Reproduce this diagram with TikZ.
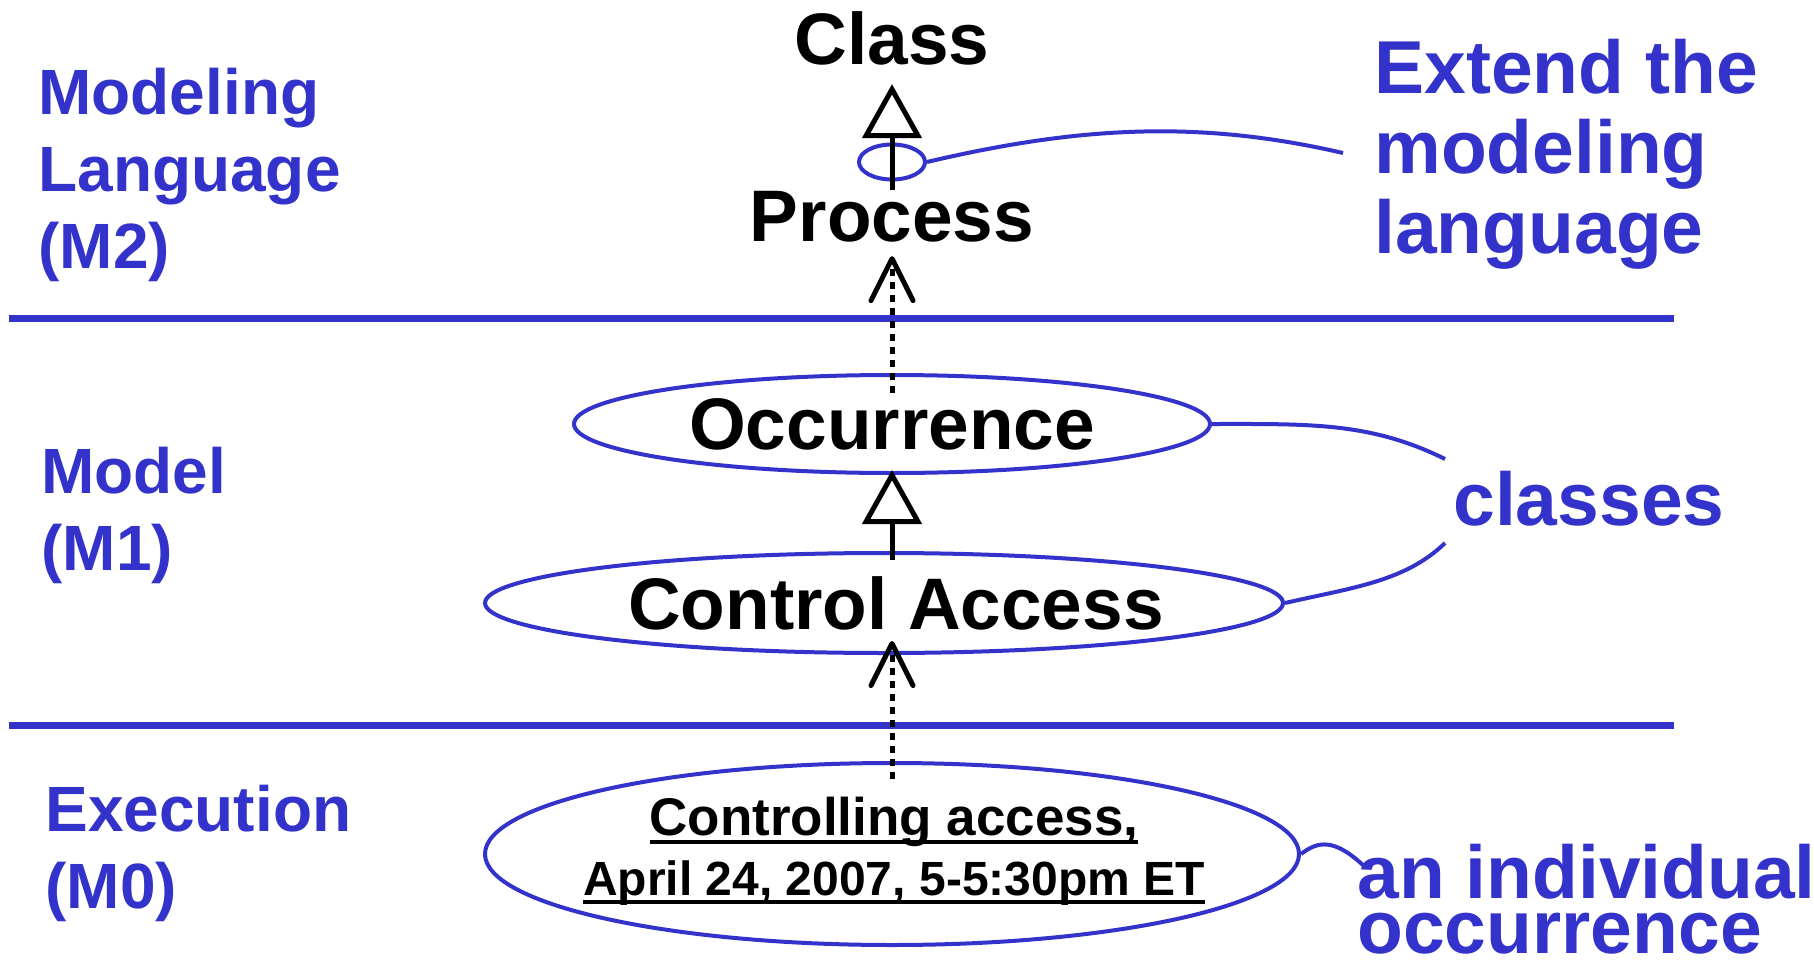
\documentclass[tikz,border=0pt]{standalone}
\usepackage{fontspec}
\setmainfont{Liberation Sans}
\usetikzlibrary{arrows.meta,shapes.geometric}
\definecolor{mofblue}{RGB}{51,51,204}
\newcommand{\thickul}[1]{\setbox0\hbox{#1}\rlap{\rule[-4.5pt]{\wd0}{2pt}}\box0}
\tikzset{
  metaclass/.style={font=\fontsize{36.5pt}{40pt}\selectfont\bfseries, inner sep=0pt},
  classbox/.style={ellipse, draw=mofblue, line width=2pt, inner sep=0pt,
    font=\fontsize{36.5pt}{40pt}\selectfont\bfseries},
  levellabel/.style={text=mofblue, font=\fontsize{32pt}{38.5pt}\selectfont\bfseries,
    align=left, anchor=base west, inner sep=0pt},
  note/.style={text=mofblue, font=\fontsize{37.5pt}{40pt}\selectfont\bfseries,
    align=left, anchor=base west, inner sep=0pt},
  specializes/.style={-{Triangle[open,length=27pt,width=29.5pt]}, line width=2.5pt},
  instanceof/.style={-{Straight Barb[round,length=21pt,width=21pt]}, line width=2.5pt,
    dash pattern=on 3.5pt off 3pt},
  callout/.style={mofblue, line width=2pt},
  layerline/.style={mofblue, line width=3.5pt}
}
\begin{document}
\begin{tikzpicture}[x=0.5pt, y=-0.5pt]
  \useasboundingbox (0,0) rectangle (1814,963);
  %layers
  \draw[layerline] (9,318) -- (1674,318);
  \draw[layerline] (9,725) -- (1674,725);
  %nodes
  \node[metaclass, anchor=base] at (892,65) (class) {Class};
  \node[metaclass, anchor=base] at (892,241) (process) {Process};
  \node[ellipse, draw=mofblue, line width=2pt, minimum width=33pt, minimum height=17.5pt,
    inner sep=0pt] at (892,162) (mark) {};
  \node[classbox, minimum width=318pt, minimum height=49pt] at (892,424) (occ) {Occurrence};
  \node[classbox, minimum width=399pt, minimum height=50pt] at (884,603) (ctrl)
    {\hspace*{12pt}Control Access};
  \node[classbox, minimum width=407pt, minimum height=91pt] at (892,854) (exec) {};
  \node[inner sep=0pt, align=center, font=\fontsize{24pt}{30pt}\selectfont\bfseries]
    at (894,851) (execname)
    {{\fontsize{26.5pt}{30pt}\selectfont\thickul{Controlling access,}}\\
     \thickul{April 24, 2007, 5-5:30pm ET}};
  %labels
  \node[levellabel] at (38,268) (mtwo) {Modeling\\Language\\(M2)};
  \node[levellabel] at (41,570) (mone) {Model\\(M1)};
  \node[levellabel] at (45,908) (mzero) {Execution\\(M0)};
  \node[note] at (1374,253) (extend) {Extend the\\modeling\\language};
  \node[note] at (1453,525) (classes) {classes};
  \node[note, font=\fontsize{37.5pt}{27.5pt}\selectfont\bfseries] at (1357,953) (indiv)
    {an individual\\occurrence};
  %arrows
  \draw[specializes, shorten >=9pt] (process) -- (class);
  \draw[specializes, shorten <=-4.5pt, shorten >=-2.5pt] (occ.south |- ctrl.north) -- (occ.south);
  \draw[instanceof, shorten <=-10pt, shorten >=7pt] (occ) -- (process);
  \draw[instanceof, shorten <=-9pt, shorten >=-7pt] (exec.north) -- (exec.north |- ctrl.south);
  %callouts
  \coordinate (extendtip) at (1343,153);
  \coordinate (classtop) at (1445,459);
  \coordinate (classbot) at (1445,543);
  \coordinate (indivtip) at (1364,866);
  \draw[callout] (mark.east) .. controls (1080,126) and (1200,120) .. (extendtip);
  \draw[callout] (occ.east) .. controls (1310,424) and (1370,422) .. (classtop);
  \draw[callout] (ctrl.east) .. controls (1350,588) and (1405,582) .. (classbot);
  \draw[callout] (exec.east) .. controls (1318,841) and (1334,838) .. (indivtip);
\end{tikzpicture}
\end{document}
